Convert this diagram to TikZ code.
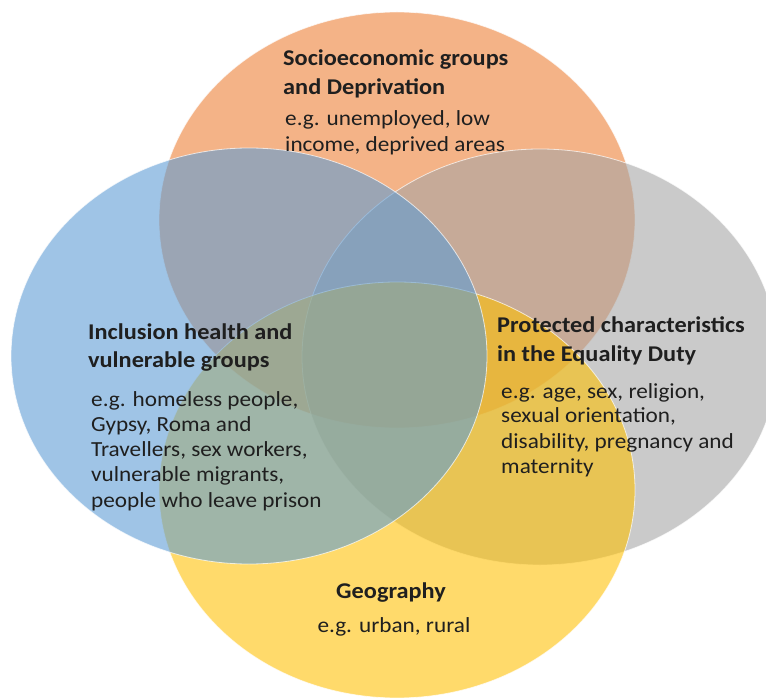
\documentclass[tikz,border=0pt]{standalone}
\usepackage{fontspec}
\setmainfont{Carlito}[FakeStretch=1.08]
\usetikzlibrary{shapes.geometric}
\definecolor{corange}{HTML}{ED7D31}
\definecolor{cblue}{HTML}{5B9BD5}
\definecolor{cgray}{HTML}{A5A5A5}
\definecolor{cyellow}{HTML}{FFC000}
\definecolor{ctext}{HTML}{1F1F1F}
\begin{document}
\begin{tikzpicture}[x=1pt,y=-1pt,
  set/.style={ellipse, inner sep=0pt, minimum width=476pt, minimum height=416pt, fill opacity=0.58, draw=white, draw opacity=0.7, line width=0.8pt},
  ttl/.style={anchor=base west, inner sep=0pt, text=ctext, font=\fontsize{22.5}{26}\selectfont\bfseries},
  txt/.style={anchor=base west, inner sep=0pt, text=ctext, font=\fontsize{21.5}{25}\selectfont},
  ttlc/.style={ttl, anchor=base},
  txtc/.style={txt, anchor=base}]
\useasboundingbox (0,0) rectangle (766,698);
\fill[white] (0,0) rectangle (766,698);
\node[set, fill=corange] (socio) at (397,220) {};
\node[set, fill=cgray] (prot) at (540,357) {};
\node[set, fill=cyellow] (geo) at (397,490) {};
\node[set, fill=cblue] (incl) at (249,356) {};
% top
\node[ttl] (s1) at (283,66) {Socioeconomic groups};
\node[ttl] (s2) at (283,95) {and Deprivation};
\node[txt] (s3) at (285,126) {e.g. unemployed, low};
\node[txt] (s4) at (285,152) {income, deprived areas};
% left
\node[ttl] (i1) at (88,339) {Inclusion health and};
\node[ttl] (i2) at (88,367) {vulnerable groups};
\node[txt] (i3) at (91,406) {e.g. homeless people,};
\node[txt] (i4) at (91,431) {Gypsy, Roma and};
\node[txt] (i5) at (91,456) {Travellers, sex workers,};
\node[txt] (i6) at (91,481) {vulnerable migrants,};
\node[txt] (i7) at (91,507) {people who leave prison};
% right
\node[ttl] (p1) at (497,332) {Protected characteristics};
\node[ttl] (p2) at (497,361) {in the Equality Duty};
\node[txt] (p3) at (501,398) {e.g. age, sex, religion,};
\node[txt] (p4) at (501,422) {sexual orientation,};
\node[txt] (p5) at (501,448) {disability, pregnancy and};
\node[txt] (p6) at (501,473) {maternity};
% bottom
\node[ttlc] (g1) at (391,598) {Geography};
\node[txtc] (g2) at (394,632) {e.g. urban, rural};
\end{tikzpicture}
\end{document}
